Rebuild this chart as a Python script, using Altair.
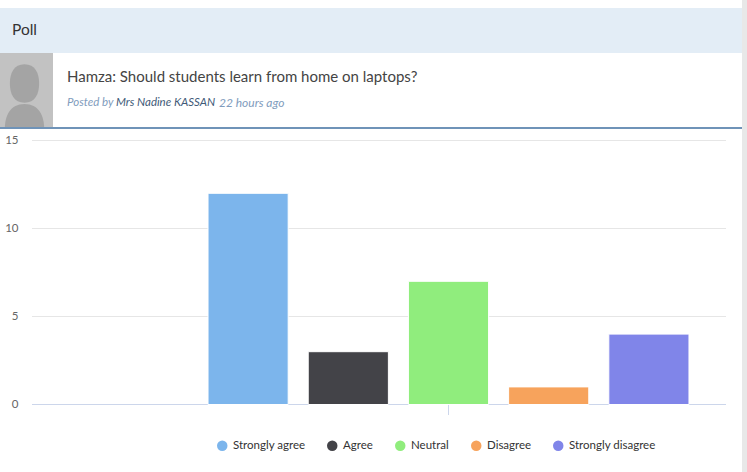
import altair as alt
import pandas as pd

answers = ["Strongly agree", "Agree", "Neutral", "Disagree", "Strongly disagree"]
votes = [12, 3, 7, 1, 4]
colors = ["#7cb5ec", "#434348", "#90ed7d", "#f7a35c", "#8085e9"]
y_ticks = [0, 5, 10, 15]

FONT = "Lato"
W, H = 747, 472

poll = pd.DataFrame({"answer": answers, "votes": votes})
grid = pd.DataFrame({"tick": y_ticks[1:]})

y_scale = alt.Scale(domain=[0, 15], range=[404.5, 140.5], nice=False)
x_scale = alt.Scale(domain=answers, range=[198, 699], paddingInner=0.2, paddingOuter=0.1)
y_axis = alt.Axis(
    values=y_ticks, title=None, grid=False, domain=False, ticks=False,
    labelFont=FONT, labelFontSize=11.5, labelColor="#666666",
    labelPadding=0, offset=-18, labelAlign="right",
)


def box(color, x, x2, y, y2):
    return alt.Chart().mark_rect(color=color).encode(
        x=alt.value(x), x2=alt.value(x2), y=alt.value(y), y2=alt.value(y2)
    )


def label(text, x, y, size, color, **kw):
    return alt.Chart().mark_text(
        text=text, font=FONT, fontSize=size, color=color, align="left", baseline="middle", **kw
    ).encode(x=alt.value(x), y=alt.value(y))


def avatar_part(shape, x, y, size):
    return alt.Chart().mark_point(
        shape=shape, filled=True, color="#a4a4a4", opacity=1, size=size,
    ).encode(x=alt.value(x), y=alt.value(y))


# Outlines for the placeholder avatar: a full ellipse, and one with a flat cut below
HEAD_PATH = "M0,-1C0.55,-1,0.76,-0.55,0.76,0C0.76,0.55,0.55,1,0,1C-0.55,1,-0.76,0.55,-0.76,0C-0.76,-0.55,-0.55,-1,0,-1Z"
BODY_PATH = "M-0.755,-0.115C-0.74,-0.55,-0.55,-1,0,-1C0.55,-1,0.74,-0.55,0.755,-0.115Z"

# Page furniture above the plot
header = box("#e3edf6", 0, 742, 8, 53)
scrollbar = box("#e8e8e8", 742, 747, 0, 472)
avatar_bg = box("#c2c2c2", 0, 53, 53, 127)
head = avatar_part(HEAD_PATH, 24.5, 83.5, 1480)
body = avatar_part(BODY_PATH, 24.5, 130, 2704)
divider = box("#6f93b8", 0, 742, 127, 129)

title = label("Poll", 12, 30, 15.5, "#333333")
question = label("Hamza: Should students learn from home on laptops?", 67, 77, 15, "#444444")
posted = label("Posted by", 67, 103, 11.5, "#7f9cbd", fontStyle="italic")
author = label("Mrs Nadine KASSAN", 116, 103, 11.5, "#3f5a78", fontStyle="italic")
when = label("22 hours ago", 219, 103, 12, "#7f9cbd", fontStyle="italic")

# Plot: gridlines, baseline, category tick, bars
gridlines = alt.Chart(grid).mark_rule(color="#e6e6e6", strokeWidth=1).encode(
    y=alt.Y("tick:Q", scale=y_scale, axis=y_axis),
    x=alt.value(32),
    x2=alt.value(726),
)
baseline = alt.Chart().mark_rule(color="#ccd6eb", strokeWidth=1).encode(
    x=alt.value(32), x2=alt.value(726), y=alt.value(404.5)
)
center_tick = alt.Chart().mark_rule(color="#ccd6eb", strokeWidth=1).encode(
    x=alt.value(448.5), y=alt.value(404), y2=alt.value(415)
)

bars = alt.Chart(poll).mark_bar(stroke="#ffffff", strokeWidth=1).encode(
    x=alt.X("answer:N", scale=x_scale, sort=answers, axis=None),
    y=alt.Y("votes:Q", scale=y_scale, axis=y_axis),
    color=alt.Color(
        "answer:N",
        sort=answers,
        scale=alt.Scale(domain=answers, range=colors),
        legend=alt.Legend(
            title=None, orient="none", legendX=216.5, legendY=440, direction="horizontal",
            columns=5, gridAlign="none", symbolType="circle", symbolSize=110,
            symbolStrokeWidth=0, columnPadding=21, labelOffset=5,
            labelFont=FONT, labelFontSize=11.5, labelColor="#333333",
            labelLimit=200, padding=0,
        ),
    ),
)

chart = alt.layer(
    header, avatar_bg, head, body, divider, scrollbar,
    title, question, posted, author, when,
    gridlines, baseline, center_tick, bars,
).properties(
    width=W, height=H, padding=0, autosize=alt.AutoSizeParams(type="none"), background="#ffffff"
).configure_view(stroke=None)

chart.save("out.html", embed_options={"renderer": "svg", "actions": False})
